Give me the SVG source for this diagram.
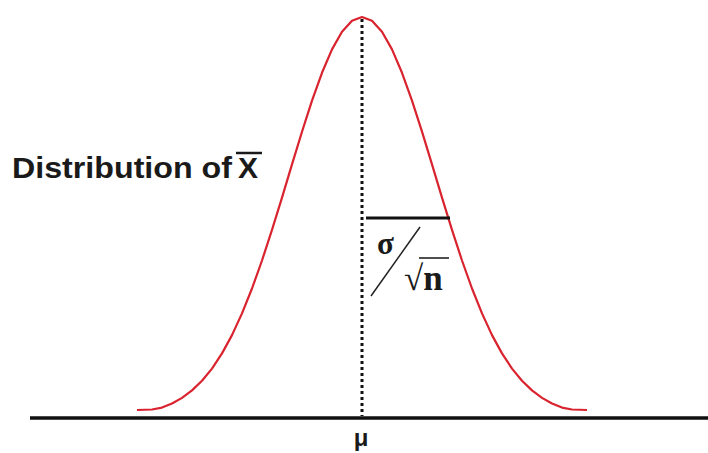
<svg xmlns="http://www.w3.org/2000/svg" width="708" height="453" viewBox="0 0 708 453">
<style>
.lbl{font-family:"Liberation Sans",Arial,sans-serif;font-weight:bold;fill:#1a1a1a}
.math{font-family:"Liberation Serif","Times New Roman",serif;font-weight:bold;fill:#1a1a1a}
</style>
<rect width="708" height="453" fill="#fff"/>
<g id="curve">
<path d="M137,410 L152,409.5 L162,407.6 L172,403.5 L182,397.9 L192,390.4 L202,380.8 L212,368.6 L222,353.4 L232,335.1 L242,313.4 L252,288.5 L262,260.5 L272,229.9 L282,197.6 L292,164.4 L302,131.7 L312,100.6 L322,72.8 L332,49.4 L342,31.7 L352,20.7 L362,17 L372,20.7 L382,31.7 L392,49.4 L402,72.8 L412,100.6 L422,131.7 L432,164.4 L442,197.6 L452,229.9 L462,260.5 L472,288.5 L482,313.4 L492,335.1 L502,353.4 L512,368.6 L522,380.8 L532,390.4 L542,397.9 L552,403.5 L562,407.6 L572,409.5 L587,410" fill="none" stroke="#d9232e" stroke-width="2.2" stroke-linejoin="round"/>
</g>
<g id="axis">
<line x1="30" y1="418" x2="708" y2="418" stroke="#111" stroke-width="3.5"/>
<line x1="362" y1="19" x2="362" y2="416" stroke="#111" stroke-width="3" stroke-dasharray="3,3"/>
</g>
<g id="sd">
<line x1="366" y1="218" x2="450" y2="218" stroke="#111" stroke-width="3"/>
<line x1="371" y1="296" x2="420" y2="227" stroke="#222" stroke-width="1.5"/>
<text class="math" x="377" y="254" font-size="31">σ</text>
<text class="math" x="404" y="290" font-size="35">√n</text>
<line x1="419" y1="258" x2="449" y2="258" stroke="#222" stroke-width="1.6"/>
</g>
<g id="label">
<text class="lbl" x="12" y="178" font-size="30" textLength="220" lengthAdjust="spacingAndGlyphs">Distribution of</text>
<text class="lbl" x="238" y="178" font-size="30">X</text>
<line x1="236" y1="153" x2="262" y2="153" stroke="#1a1a1a" stroke-width="2.5"/>
</g>
<g id="mu">
<text class="lbl" x="361" y="446" font-size="24" text-anchor="middle">μ</text>
</g>
</svg>
